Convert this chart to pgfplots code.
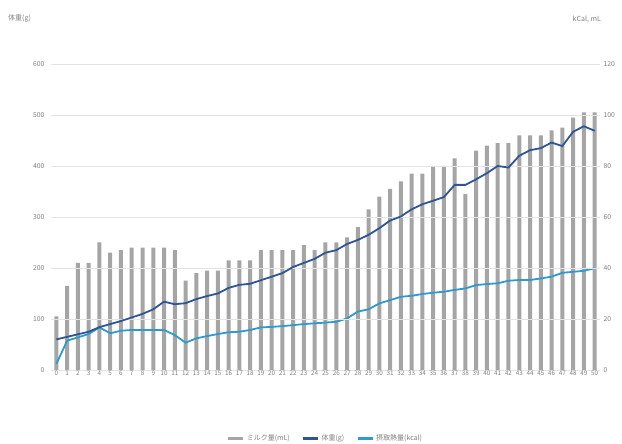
\documentclass[border=0pt]{standalone}
\usepackage{pgfplots}
\pgfplotsset{compat=1.18}
\usepackage{pgfplotstable}
\usepackage{fontspec}
\setmainfont{Noto Sans CJK JP}
\definecolor{barg}{HTML}{A5A5A5}
\definecolor{dblue}{HTML}{2F5597}
\definecolor{lblue}{HTML}{2E9AD0}
\definecolor{txtg}{HTML}{7F7F7F}
\definecolor{gridg}{HTML}{E4E4E4}
\pgfplotstableread{
i milk weight kcal
0 21 60 2.4
1 33 65 11.5
2 42 70 12.8
3 42 75 14.1
4 50 84 16.7
5 46 90 14.4
6 47 96 15.4
7 48 103 15.7
8 48 110 15.7
9 48 119 15.7
10 48 134 15.7
11 47 129 13.7
12 35 131 10.7
13 38 139 12.4
14 39 145 13.3
15 39 150 14.1
16 43 161 14.8
17 43 167 15.0
18 43 169 15.7
19 47 176 16.7
20 47 183 16.9
21 47 190 17.2
22 47 202 17.6
23 49 210 18.0
24 47 218 18.3
25 50 230 18.6
26 50 235 18.9
27 52 247 20.2
28 56 255 22.9
29 63 265 23.8
30 68 278 26.1
31 71 293 27.4
32 74 301 28.7
33 77 315 29.1
34 77 325 29.8
35 80 332 30.3
36 80 339 30.7
37 83 363 31.4
38 69 363 32.0
39 86 374 33.3
40 88 386 33.7
41 89 400 34.0
42 89 397 35.0
43 92 420 35.3
44 92 431 35.3
45 92 435 35.9
46 94 446 36.6
47 95 439 38.1
48 99 467 38.5
49 101 478 38.9
50 101 469 39.9
}\datatable
\begin{document}
\begin{tikzpicture}[x=1pt,y=1pt]
\path[use as bounding box] (0,0) rectangle (622,444);
% right axis: bars (mL) and kcal line
\begin{axis}[
  scale only axis, width=549pt, height=306pt,
  at={(51pt,74pt)}, anchor=south west,
  xmin=-0.5, xmax=50.5, ymin=0, ymax=120,
  axis line style={draw=none}, axis x line*=bottom, axis y line*=right,
  ytick={0,20,...,120}, xtick=\empty,
  tick style={draw=none},
  yticklabel style={font=\fontsize{6.8}{7}\selectfont, text=txtg},
  /pgf/number format/assume math mode=true,
  clip=false,
]
\addplot[ybar, bar width=4pt, fill=barg, draw=none] table[x=i,y=milk] {\datatable};
\addplot[lblue, line width=1.8pt, mark=none] table[x=i,y=kcal] {\datatable};
\end{axis}
% left axis: weight line
\begin{axis}[
  scale only axis, width=549pt, height=306pt,
  at={(51pt,74pt)}, anchor=south west,
  xmin=-0.5, xmax=50.5, ymin=0, ymax=600,
  axis line style={draw=none}, axis x line*=bottom, axis y line*=left,
  ytick={0,100,...,600},
  xtick={0,...,50},
  tick style={draw=none},
  ymajorgrids, grid style={gridg, line width=0.8pt},
  yticklabel style={font=\fontsize{6.8}{7}\selectfont, text=txtg, xshift=-3pt},
  xticklabel style={font=\fontsize{6.3}{6.5}\selectfont, text=txtg, inner sep=1pt},
  /pgf/number format/assume math mode=true,
  legend style={at={(0.5,-0.223)}, anchor=center, draw=none, fill=none,
    legend columns=-1, font=\fontsize{7}{8}\selectfont, text=txtg,
    /tikz/every even column/.append style={column sep=10pt}},
  legend image code/.code={\draw[#1, line width=2.8pt] (0pt,0pt) -- (15pt,0pt);},
  clip=false,
]
\addlegendimage{barg}
\addlegendentry{ミルク量(mL)}
\addplot[dblue, line width=1.8pt, mark=none] table[x=i,y=weight] {\datatable};
\addlegendentry{体重(g)}
\addlegendimage{lblue}
\addlegendentry{摂取熱量(kcal)}
\end{axis}
\node[anchor=west, text=txtg, font=\fontsize{7}{8}\selectfont, inner sep=0pt] at (8,426) {体重(g)};
\node[anchor=east, text=txtg, font=\fontsize{7}{8}\selectfont, inner sep=0pt] at (601,425) {kCal, mL};
\end{tikzpicture}
\end{document}
